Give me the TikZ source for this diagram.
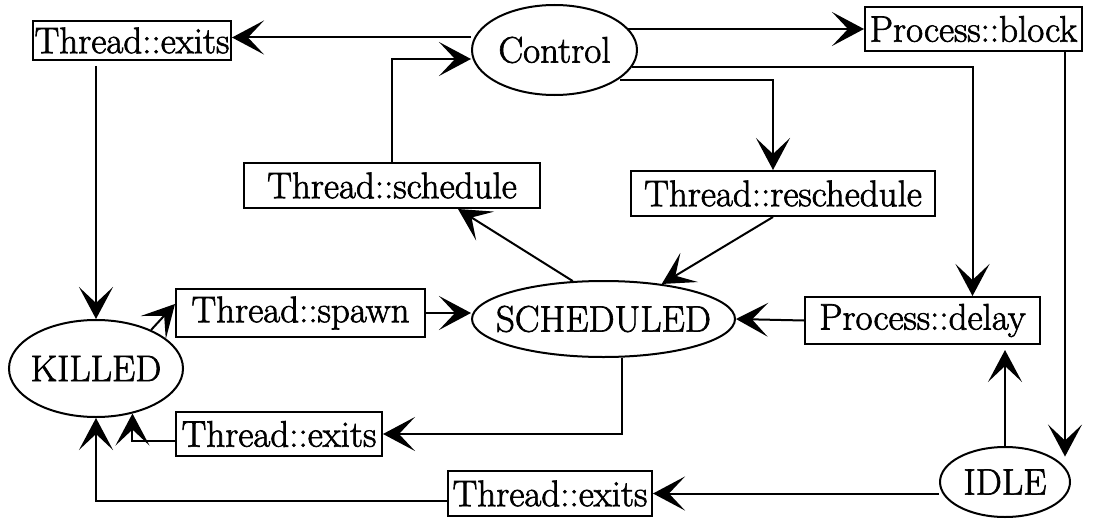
\documentclass[tikz,border=0pt]{standalone}
\usepackage{fontspec}
\usepackage{tikz}
\usetikzlibrary{shapes,arrows.meta}
\newfontfamily\diagfont{lmroman17-regular}[Extension=.otf, FakeBold=1.8]

\begin{document}
\begin{tikzpicture}[
    x=1pt, y=-1pt,
    font=\diagfont\fontsize{37}{44}\selectfont,
    box/.style={rectangle, draw, line width=2pt, inner sep=0pt, minimum width=#1, minimum height=45pt},
    state/.style={ellipse, draw, line width=2pt, inner sep=-20pt},
    arrow/.style={-{Stealth[length=32pt,width=34pt,inset=16pt]}, line width=2pt}
]
    \useasboundingbox (0,0) rectangle (1108,519);

    \node[state, minimum width=165pt, minimum height=90pt] (control) at (554.5,50) {Control};
    \node[state, minimum width=263pt, minimum height=76pt] (scheduled) at (603.5,319) {SCHEDULED};
    \node[state, minimum width=174pt, minimum height=97pt] (killed) at (96,368.5) {KILLED};
    \node[state, minimum width=130pt, minimum height=70pt] (idle) at (1005,482) {IDLE};

    \node[box=198pt, minimum height=39pt] (exitsA) at (132,40.5) {Thread::exits};
    \node[box=217pt, minimum height=44pt] (block) at (973.5,29) {Process::block};
    \node[box=296pt] (schedule) at (392,185.5) {Thread::schedule};
    \node[box=304pt] (reschedule) at (783,193.5) {Thread::reschedule};
    \node[box=249pt, minimum height=48pt] (spawn) at (300.5,313) {Thread::spawn};
    \node[box=235pt, minimum height=47pt] (delay) at (922.5,320.5) {Process::delay};
    \node[box=206pt, minimum height=44pt] (exitsB) at (279,434) {Thread::exits};
    \node[box=204pt] (exitsC) at (550,493.5) {Thread::exits};

    % from Control
    \draw[arrow] ([yshift=3pt]control.west |- exitsA.east) -- ([yshift=3pt]exitsA.east);
    \draw[arrow] ([xshift=-10pt]control.east |- block.west) -- (block.west);
    \draw[arrow] ([xshift=-6pt,yshift=-17pt]control.east) -| ([xshift=50pt]delay.north);
    \draw[arrow] ([xshift=-18pt,yshift=-30pt]control.east) -| ([xshift=-10pt]reschedule.north);
    \draw[arrow] (schedule.north) |- ([yshift=-9pt]control.west);

    % around SCHEDULED
    \draw[arrow] ([xshift=-10pt]reschedule.south) -- (scheduled);
    \draw[arrow] (scheduled.129) -- ([xshift=66pt]schedule.south);
    \draw[arrow] (spawn.east) -- (spawn.east -| scheduled.west);
    \draw[arrow] (delay.west) -- (scheduled.east);
    \draw[arrow] ([xshift=18pt]scheduled.south) |- (exitsB.east);

    % to and from KILLED
    \draw[arrow] (killed.35) -- ([yshift=9pt]spawn.west);
    \draw[arrow] ([yshift=-5pt]exitsA.south -| killed.north) -- (killed.north);
    \draw[arrow] ([yshift=-7pt]exitsB.west) -| (killed.-51);
    \draw[arrow] ([yshift=-7pt]exitsC.west) -| (killed.south);

    % IDLE
    \draw[arrow] ([xshift=-18pt]block.south east) -- ([xshift=-18pt]block.south east |- idle.north east);
    \draw[arrow] (idle.north) -- ([yshift=-5pt]idle.north |- delay.south);
    \draw[arrow] (idle.west |- exitsC.east) -- (exitsC.east);
\end{tikzpicture}
\end{document}
